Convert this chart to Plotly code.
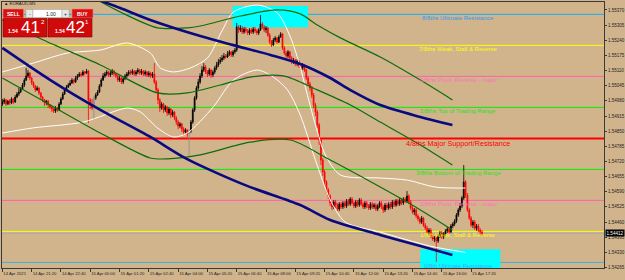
import plotly.graph_objects as go

# ---------------- data ----------------
bar_no = list(range(263))  # 5-minute bars starting 14 Apr 2021 20:00
first_open = 1.54966
closes = [
 1.54975, 1.54984, 1.54966, 1.54979, 1.54971, 1.54988, 1.54975, 1.54996, 1.55009, 1.55018,
 1.55031, 1.55048, 1.55069, 1.55087, 1.55099, 1.55078, 1.55057, 1.55044, 1.55027, 1.55035,
 1.55014, 1.54996, 1.54984, 1.54971, 1.54979, 1.54962, 1.54954, 1.54945, 1.54936, 1.54949,
 1.54941, 1.54966, 1.54988, 1.55009, 1.55027, 1.55039, 1.55048, 1.55057, 1.55069, 1.55061,
 1.55078, 1.55087, 1.55095, 1.55091, 1.55104, 1.55099, 1.55108, 1.54984, 1.54962, 1.54949,
 1.54992, 1.55005, 1.55018, 1.55044, 1.55069, 1.55087, 1.55095, 1.55104, 1.55091, 1.55099,
 1.55108, 1.55095, 1.55087, 1.55069, 1.55078, 1.55061, 1.55074, 1.55087, 1.55095, 1.55104,
 1.55099, 1.55108, 1.55095, 1.55104, 1.55112, 1.55099, 1.55108, 1.55095, 1.55104, 1.55091,
 1.55099, 1.55087, 1.55095, 1.55061, 1.55027, 1.54984, 1.54949, 1.54966, 1.54941, 1.54954,
 1.54928, 1.54945, 1.54919, 1.54932, 1.54906, 1.54889, 1.54872, 1.54881, 1.54859, 1.54846,
 1.54855, 1.54838, 1.54851, 1.54889, 1.54941, 1.54992, 1.55035, 1.55061, 1.55087, 1.55112,
 1.55125, 1.55104, 1.55095, 1.55112, 1.55091, 1.55104, 1.55121, 1.55134, 1.55147, 1.55155,
 1.55164, 1.55172, 1.55168, 1.55181, 1.55190, 1.55177, 1.55190, 1.55198, 1.55297, 1.55284,
 1.55292, 1.55275, 1.55288, 1.55280, 1.55271, 1.55284, 1.55275, 1.55288, 1.55280, 1.55271,
 1.55284, 1.55310, 1.55297, 1.55284, 1.55292, 1.55262, 1.55232, 1.55220, 1.55241, 1.55250,
 1.55232, 1.55254, 1.55267, 1.55207, 1.55185, 1.55172, 1.55190, 1.55164, 1.55147, 1.55155,
 1.55138, 1.55151, 1.55129, 1.55121, 1.55134, 1.55112, 1.55078, 1.55052, 1.55035, 1.55005,
 1.54962, 1.54932, 1.54876, 1.54812, 1.54726, 1.54675, 1.54632, 1.54598, 1.54572, 1.54542,
 1.54525, 1.54546, 1.54533, 1.54516, 1.54537, 1.54525, 1.54542, 1.54529, 1.54550, 1.54537,
 1.54559, 1.54542, 1.54529, 1.54546, 1.54533, 1.54555, 1.54537, 1.54525, 1.54542, 1.54529,
 1.54520, 1.54537, 1.54525, 1.54533, 1.54516, 1.54529, 1.54542, 1.54525, 1.54512, 1.54533,
 1.54520, 1.54537, 1.54525, 1.54546, 1.54533, 1.54550, 1.54537, 1.54555, 1.54542, 1.54559,
 1.54550, 1.54572, 1.54546, 1.54520, 1.54503, 1.54512, 1.54486, 1.54473, 1.54460, 1.54477,
 1.54447, 1.54434, 1.54417, 1.54426, 1.54400, 1.54387, 1.54392, 1.54379, 1.54400, 1.54413,
 1.54396, 1.54409, 1.54422, 1.54430, 1.54417, 1.54443, 1.54452, 1.54464, 1.54490, 1.54512,
 1.54529, 1.54563, 1.54632, 1.54576, 1.54512, 1.54477, 1.54447, 1.54460, 1.54434, 1.54443,
 1.54426, 1.54417, 1.54412]
highs = [
 1.54988, 1.54992, 1.54988, 1.54984, 1.54988, 1.54996, 1.54992, 1.55005, 1.55018, 1.55035,
 1.55039, 1.55057, 1.55078, 1.55121, 1.55112, 1.55104, 1.55082, 1.55065, 1.55048, 1.55044,
 1.55039, 1.55018, 1.55001, 1.54988, 1.54984, 1.54984, 1.54966, 1.54958, 1.54949, 1.54958,
 1.54954, 1.54975, 1.54996, 1.55018, 1.55035, 1.55048, 1.55057, 1.55069, 1.55078, 1.55074,
 1.55087, 1.55095, 1.55104, 1.55104, 1.55112, 1.55108, 1.55117, 1.55112, 1.54992, 1.54988,
 1.55001, 1.55014, 1.55027, 1.55052, 1.55078, 1.55099, 1.55104, 1.55112, 1.55108, 1.55108,
 1.55117, 1.55112, 1.55099, 1.55091, 1.55087, 1.55082, 1.55082, 1.55095, 1.55104, 1.55112,
 1.55112, 1.55117, 1.55112, 1.55112, 1.55121, 1.55117, 1.55117, 1.55112, 1.55112, 1.55108,
 1.55108, 1.55104, 1.55104, 1.55142, 1.55069, 1.55035, 1.54992, 1.54975, 1.54971, 1.54962,
 1.54958, 1.54954, 1.54949, 1.54941, 1.54936, 1.54915, 1.54898, 1.54889, 1.54885, 1.54868,
 1.54863, 1.54859, 1.54859, 1.54898, 1.54949, 1.55001, 1.55044, 1.55074, 1.55099, 1.55129,
 1.55142, 1.55134, 1.55112, 1.55121, 1.55117, 1.55112, 1.55129, 1.55147, 1.55160, 1.55168,
 1.55177, 1.55185, 1.55181, 1.55194, 1.55198, 1.55194, 1.55198, 1.55207, 1.55314, 1.55305,
 1.55305, 1.55301, 1.55297, 1.55297, 1.55288, 1.55292, 1.55292, 1.55297, 1.55297, 1.55288,
 1.55292, 1.55348, 1.55318, 1.55305, 1.55301, 1.55297, 1.55271, 1.55241, 1.55250, 1.55258,
 1.55254, 1.55262, 1.55275, 1.55271, 1.55215, 1.55194, 1.55198, 1.55194, 1.55172, 1.55164,
 1.55160, 1.55160, 1.55155, 1.55138, 1.55142, 1.55138, 1.55117, 1.55087, 1.55061, 1.55044,
 1.55014, 1.54971, 1.54941, 1.54885, 1.54821, 1.54735, 1.54683, 1.54640, 1.54606, 1.54580,
 1.54550, 1.54555, 1.54555, 1.54542, 1.54546, 1.54546, 1.54550, 1.54550, 1.54559, 1.54559,
 1.54567, 1.54567, 1.54550, 1.54555, 1.54555, 1.54563, 1.54563, 1.54546, 1.54550, 1.54550,
 1.54537, 1.54546, 1.54546, 1.54542, 1.54542, 1.54537, 1.54550, 1.54550, 1.54533, 1.54542,
 1.54542, 1.54546, 1.54546, 1.54555, 1.54555, 1.54559, 1.54559, 1.54563, 1.54563, 1.54567,
 1.54567, 1.54593, 1.54580, 1.54555, 1.54529, 1.54520, 1.54520, 1.54494, 1.54482, 1.54486,
 1.54482, 1.54456, 1.54443, 1.54434, 1.54434, 1.54409, 1.54400, 1.54400, 1.54409, 1.54422,
 1.54422, 1.54417, 1.54430, 1.54439, 1.54439, 1.54452, 1.54460, 1.54473, 1.54499, 1.54520,
 1.54542, 1.54572, 1.54705, 1.54640, 1.54585, 1.54520, 1.54486, 1.54469, 1.54469, 1.54452,
 1.54452, 1.54434, 1.54426]
lows = [
 1.54958, 1.54966, 1.54958, 1.54962, 1.54962, 1.54966, 1.54966, 1.54971, 1.54992, 1.55001,
 1.55014, 1.55027, 1.55039, 1.55065, 1.55078, 1.55069, 1.55048, 1.55035, 1.55018, 1.55022,
 1.55005, 1.54988, 1.54975, 1.54958, 1.54962, 1.54949, 1.54945, 1.54932, 1.54928, 1.54928,
 1.54932, 1.54936, 1.54962, 1.54984, 1.55005, 1.55022, 1.55035, 1.55044, 1.55052, 1.55052,
 1.55057, 1.55069, 1.55082, 1.55082, 1.55087, 1.55091, 1.55095, 1.54885, 1.54945, 1.54941,
 1.54898, 1.54984, 1.55001, 1.55014, 1.55039, 1.55065, 1.55078, 1.55087, 1.55082, 1.55082,
 1.55091, 1.55087, 1.55078, 1.55061, 1.55061, 1.55052, 1.55052, 1.55069, 1.55078, 1.55087,
 1.55091, 1.55091, 1.55087, 1.55087, 1.55095, 1.55091, 1.55091, 1.55087, 1.55087, 1.55082,
 1.55082, 1.55078, 1.55078, 1.55052, 1.55014, 1.54966, 1.54932, 1.54941, 1.54928, 1.54932,
 1.54915, 1.54919, 1.54906, 1.54911, 1.54898, 1.54876, 1.54859, 1.54863, 1.54846, 1.54833,
 1.54838, 1.54825, 1.54739, 1.54842, 1.54881, 1.54932, 1.54984, 1.55027, 1.55052, 1.55078,
 1.55104, 1.55095, 1.55082, 1.55087, 1.55078, 1.55082, 1.55095, 1.55112, 1.55125, 1.55138,
 1.55147, 1.55155, 1.55160, 1.55164, 1.55172, 1.55168, 1.55168, 1.55181, 1.55190, 1.55271,
 1.55275, 1.55267, 1.55267, 1.55271, 1.55262, 1.55262, 1.55267, 1.55267, 1.55271, 1.55262,
 1.55262, 1.55280, 1.55288, 1.55275, 1.55271, 1.55254, 1.55224, 1.55211, 1.55215, 1.55232,
 1.55224, 1.55228, 1.55250, 1.55198, 1.55177, 1.55164, 1.55164, 1.55155, 1.55138, 1.55138,
 1.55129, 1.55129, 1.55121, 1.55112, 1.55112, 1.55104, 1.55069, 1.55044, 1.55022, 1.54992,
 1.54949, 1.54915, 1.54863, 1.54791, 1.54705, 1.54658, 1.54615, 1.54585, 1.54559, 1.54529,
 1.54512, 1.54516, 1.54520, 1.54507, 1.54507, 1.54516, 1.54516, 1.54520, 1.54520, 1.54529,
 1.54529, 1.54533, 1.54520, 1.54520, 1.54525, 1.54525, 1.54529, 1.54516, 1.54516, 1.54520,
 1.54512, 1.54512, 1.54516, 1.54516, 1.54507, 1.54507, 1.54520, 1.54516, 1.54499, 1.54503,
 1.54512, 1.54512, 1.54516, 1.54516, 1.54525, 1.54525, 1.54529, 1.54529, 1.54533, 1.54533,
 1.54542, 1.54542, 1.54537, 1.54512, 1.54494, 1.54490, 1.54477, 1.54464, 1.54452, 1.54452,
 1.54439, 1.54426, 1.54409, 1.54404, 1.54392, 1.54379, 1.54374, 1.54289, 1.54370, 1.54392,
 1.54387, 1.54387, 1.54400, 1.54413, 1.54409, 1.54413, 1.54434, 1.54443, 1.54456, 1.54482,
 1.54503, 1.54520, 1.54555, 1.54563, 1.54503, 1.54469, 1.54439, 1.54434, 1.54426, 1.54422,
 1.54417, 1.54404, 1.54400]
gray_bars = [50, 102]

tick_bars = [0, 16, 32, 48, 64, 80, 96, 112, 128, 144, 160, 176, 192, 208, 224, 240, 256]
tick_labels = ["14 Apr 2021", "14 Apr 21:20", "14 Apr 22:40", "15 Apr 00:00", "15 Apr 01:20",
               "15 Apr 02:40", "15 Apr 04:00", "15 Apr 05:20", "15 Apr 06:40", "15 Apr 08:00",
               "15 Apr 09:20", "15 Apr 10:40", "15 Apr 12:00", "15 Apr 13:20", "15 Apr 14:40",
               "15 Apr 16:00", "15 Apr 17:20"]
price_ticks = [1.54265, 1.54330, 1.54395, 1.54460, 1.54525, 1.54590, 1.54655, 1.54720, 1.54785,
               1.54850, 1.54915, 1.54980, 1.55045, 1.55110, 1.55175, 1.55240, 1.55305, 1.55370]

murrey_levels = [1.55351, 1.55218, 1.55085, 1.54952, 1.54819, 1.54686, 1.54553, 1.54420, 1.54287]
murrey_texts = ["8/8ths Ultimate Resistance", "7/8ths Weak, Stall & Reverse",
                "6/8ths Pivot, Reverse - major", "5/8ths Top of Trading Range",
                "4/8ths Major Support/Resistance", "3/8ths Bottom of Trading Range",
                "2/8ths Pivot, Reverse - major", "1/8th Weak, Stall & Reverse",
                "0/8th Ultimate Resistance"]
murrey_line_colors = ["#10B0F0", "#FFFF00", "#FF5FB0", "#00F000", "#FF0000",
                      "#00F000", "#FF5FB0", "#FFFF00", "#3AB0E0"]
murrey_text_colors = ["#2A9AF0", "#FFFF00", "#FF6FB8", "#22E022", "#FF0000",
                      "#22E022", "#FF6FB8", "#FFFF00", "#4AA8F8"]
label_bar = 249
bid_price = 1.54412

box_bar_start = [125.8, 228.3]
box_bar_end = [166.9, 272.0]
box_price_top = [1.55387, 1.54343]
box_price_bottom = [1.55296, 1.54250]

navy_upper_bars = [53.5, 64.4, 80.8, 108.1, 126.2, 146.4, 162.7, 179.1, 190.1, 206.4, 228.3, 245.8]
navy_upper_prices = [1.55410, 1.55378, 1.55327, 1.55258, 1.55219, 1.55177, 1.55138, 1.55078,
                     1.55026, 1.54962, 1.54911, 1.54876]
navy_lower_bars = [0, 26.2, 53.5, 80.8, 98.9, 113.6, 135.4, 162.7, 179.1, 206.4, 228.3, 245.8]
navy_lower_prices = [1.55207, 1.55069, 1.54941, 1.54825, 1.54739, 1.54683, 1.54610, 1.54533,
                     1.54469, 1.54405, 1.54357, 1.54319]
green_upper_bars = [42.6, 51.9, 64.4, 84.7, 101.0, 108.1, 130.0, 150.2, 162.7, 172.0, 184.6,
                    206.4, 228.3, 245.8]
green_upper_prices = [1.55455, 1.55413, 1.55361, 1.55293, 1.55293, 1.55301, 1.55344, 1.55370,
                      1.55353, 1.55305, 1.55250, 1.55168, 1.55069, 1.54984]
green_mid_bars = [0, 22.4, 53.5, 84.7, 101.0, 119.1, 135.4, 153.5, 172.0, 190.1, 206.4, 228.3, 245.8]
green_mid_prices = [1.55327, 1.55241, 1.55134, 1.55014, 1.55014, 1.55048, 1.55082, 1.55087,
                    1.55027, 1.54962, 1.54889, 1.54791, 1.54705]
green_lower_bars = [0, 26.2, 53.5, 80.8, 90.1, 108.1, 135.4, 157.3, 179.1, 206.4, 228.3, 245.8]
green_lower_prices = [1.55078, 1.54962, 1.54842, 1.54735, 1.54731, 1.54748, 1.54803, 1.54812,
                      1.54726, 1.54610, 1.54512, 1.54426]
white_upper_bars = [0, 16.9, 35.5, 53.5, 68.3, 80.8, 86.3, 93.4, 102.7, 112.0, 120.2, 126.2,
                    139.3, 150.2, 157.3, 162.7, 165.5, 171.0, 176.4, 184.6, 206.4, 221.2, 236.5, 252.9]
white_upper_prices = [1.55104, 1.55142, 1.55185, 1.55198, 1.55228, 1.55185, 1.55121, 1.55104,
                      1.55121, 1.55164, 1.55284, 1.55361, 1.55391, 1.55357, 1.55254, 1.55125,
                      1.55039, 1.54876, 1.54748, 1.54662, 1.54649, 1.54640, 1.54610, 1.54606]
white_lower_bars = [0, 16.9, 44.2, 68.3, 75.4, 84.7, 93.4, 101.0, 115.2, 126.2, 139.3, 148.0,
                    155.7, 162.7, 171.0, 179.1, 187.3, 206.4, 233.7, 252.9]
white_lower_prices = [1.54842, 1.54864, 1.54889, 1.54949, 1.54932, 1.54864, 1.54825, 1.54842,
                      1.54954, 1.55069, 1.55112, 1.55082, 1.55027, 1.54919, 1.54726, 1.54555,
                      1.54460, 1.54417, 1.54357, 1.54330]

# ---------------- layout constants ----------------
W, H = 625, 280
ML, MR, MT, MB = 2, 21, 2, 12
PW, PH = W - ML - MR, H - MT - MB
BG = "#D2B48C"
FG = "#3A3A3A"
FONT = "Liberation Sans"

opens = [first_open] + closes[:-1]
norm_idx = [i for i in bar_no if i not in gray_bars]

def pick(seq, idx):
    return [seq[i] for i in idx]

fig = go.Figure()

# candles
fig.add_trace(go.Candlestick(
    x=pick(bar_no, norm_idx), open=pick(opens, norm_idx), high=pick(highs, norm_idx),
    low=pick(lows, norm_idx), close=pick(closes, norm_idx),
    increasing=dict(line=dict(color="#000000", width=0.8), fillcolor="#000000"),
    decreasing=dict(line=dict(color="#FF0000", width=0.8), fillcolor="#FF0000"),
    whiskerwidth=0, showlegend=False, hoverinfo="skip"))
fig.add_trace(go.Candlestick(
    x=pick(bar_no, gray_bars), open=pick(opens, gray_bars), high=pick(highs, gray_bars),
    low=pick(lows, gray_bars), close=pick(closes, gray_bars),
    increasing=dict(line=dict(color="#8C8C8C", width=0.8), fillcolor="#8C8C8C"),
    decreasing=dict(line=dict(color="#8C8C8C", width=0.8), fillcolor="#8C8C8C"),
    whiskerwidth=0, showlegend=False, hoverinfo="skip"))

def add_line(xs, ys, color, width):
    fig.add_trace(go.Scatter(x=xs, y=ys, mode="lines",
                             line=dict(color=color, width=width, shape="spline", smoothing=0.8),
                             showlegend=False, hoverinfo="skip"))

add_line(white_upper_bars, white_upper_prices, "#FFFFFF", 1)
add_line(white_lower_bars, white_lower_prices, "#FFFFFF", 1)
add_line(green_upper_bars, green_upper_prices, "#0B6E0B", 1.2)
add_line(green_mid_bars, green_mid_prices, "#0B6E0B", 1.2)
add_line(green_lower_bars, green_lower_prices, "#0B6E0B", 1.2)
add_line(navy_upper_bars, navy_upper_prices, "#0A0A80", 2.6)
add_line(navy_lower_bars, navy_lower_prices, "#0A0A80", 2.6)

shapes = []
for b0, b1, pt, pb in zip(box_bar_start, box_bar_end, box_price_top, box_price_bottom):
    shapes.append(dict(type="rect", xref="x", yref="y", x0=b0, x1=b1, y0=pb, y1=pt,
                       fillcolor="#00FFFF", line=dict(width=0), layer="below"))
for lvl, col, txt in zip(murrey_levels, murrey_line_colors, murrey_texts):
    shapes.append(dict(type="line", xref="paper", yref="y", x0=0, x1=1, y0=lvl, y1=lvl,
                       line=dict(color=col, width=2 if txt.startswith("4/8") else 1), layer="below"))
shapes.append(dict(type="line", xref="paper", yref="y", x0=0, x1=1, y0=bid_price, y1=bid_price,
                   line=dict(color="#A8A8A8", width=1), layer="below"))

annotations = []
for lvl, col, txt in zip(murrey_levels, murrey_text_colors, murrey_texts):
    big = txt.startswith("4/8")
    annotations.append(dict(x=label_bar, y=lvl, xref="x", yref="y", text=txt, showarrow=False,
                            xanchor="center", yanchor="top", yshift=-0.5, borderpad=0, borderwidth=0,
                            font=dict(family=FONT, size=7.2 if big else 6.0, color=col)))
annotations.append(dict(x=1, y=bid_price, xref="paper", yref="y", text="1.54412", showarrow=False,
                        xanchor="left", yanchor="middle", xshift=1, bgcolor="#000000", borderpad=0.5,
                        font=dict(family=FONT, size=4.6, color="#FFFFFF")))

# one-click trading panel (UI decoration, pixel placed)
def px(x):
    return (x - ML) / PW
def py(y):
    return 1 - (y - MT) / PH

def prect(x0, y0, x1, y1, fill, line="#7A0000", lw=0.6):
    shapes.append(dict(type="rect", xref="paper", yref="paper", x0=px(x0), x1=px(x1),
                       y0=py(y1), y1=py(y0), fillcolor=fill, line=dict(color=line, width=lw), layer="above"))

def ptext(x, y, text, size, color="#FFFFFF", xanchor="center", bold=False):
    annotations.append(dict(x=px(x), y=py(y), xref="paper", yref="paper",
                            text=("<b>%s</b>" % text) if bold else text,
                            showarrow=False, xanchor=xanchor, yanchor="middle", borderpad=0,
                            font=dict(family=FONT, size=size, color=color)))

prect(3, 9, 23.5, 18, "#D81010", "#F08080")
prect(26, 9.5, 33, 17.5, "#E8E8E8", "#909090", 0.4)
prect(33, 9.5, 62, 17.5, "#FFFFFF", "#909090", 0.4)
prect(62, 9.5, 69, 17.5, "#E8E8E8", "#909090", 0.4)
prect(72, 9, 93, 18, "#D81010", "#F08080")
prect(3, 18.5, 47, 37, "#D00A0A", "#8A0000")
prect(48, 18.5, 92, 37, "#D00A0A", "#8A0000")
ptext(13.3, 13.6, "SELL", 5, bold=True)
ptext(82.5, 13.6, "BUY", 5, bold=True)
ptext(29.5, 13.5, "-", 5, "#202020")
ptext(51, 13.5, "1.00", 5, "#202020")
ptext(65.5, 13.5, "+", 5, "#202020")
ptext(13, 31.5, "1.54", 5, bold=True)
ptext(30.5, 27.5, "41", 17)
ptext(42.5, 22.5, "2", 6)
ptext(59.5, 31.5, "1.54", 5, bold=True)
ptext(75.5, 27.5, "42", 17)
ptext(87, 22.5, "1", 6)
ptext(3, 3.3, "▲ EURAUD,M5", 4.4, "#1A1A1A", xanchor="left")

fig.update_layout(
    width=W, height=H, margin=dict(l=ML, r=MR, t=MT, b=MB, autoexpand=False),
    paper_bgcolor=BG, plot_bgcolor=BG, showlegend=False,
    shapes=shapes, annotations=annotations,
    xaxis=dict(range=[-0.2, 328.6], rangeslider=dict(visible=False), showgrid=False, zeroline=False,
               automargin=False,
               tickmode="array", tickvals=tick_bars, ticktext=tick_labels, ticks="outside", ticklen=3,
               ticklabelstandoff=1,
               tickangle=0, tickcolor=FG, tickfont=dict(family=FONT, size=4.2, color="#222222"),
               ticklabelposition="outside right", showline=True, linecolor=FG, linewidth=1, mirror=True),
    yaxis=dict(range=[1.54263, 1.55404], side="right", showgrid=False, zeroline=False,
               automargin=False,
               tickmode="array", tickvals=price_ticks, ticktext=["%.5f" % v for v in price_ticks],
               ticks="outside", ticklen=2, tickcolor=FG,
               tickfont=dict(family=FONT, size=4.5, color="#222222"),
               showline=True, linecolor=FG, linewidth=1, mirror=True),
)

fig.write_html("out.html")
